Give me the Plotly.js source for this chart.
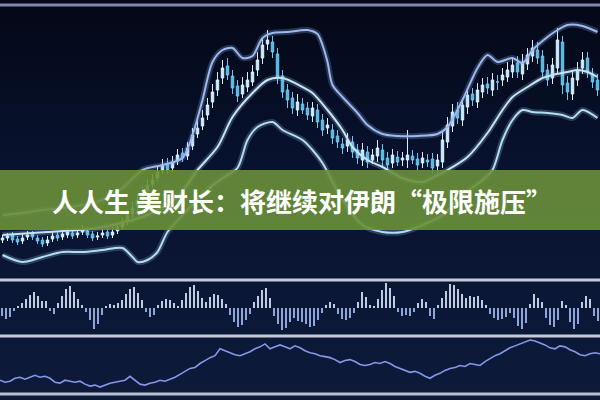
<!DOCTYPE html>
<html>
<head>
<meta charset="utf-8">
<script src="https://cdn.plot.ly/plotly-3.0.1.min.js"></script>
<style>
html,body{margin:0;padding:0;background:#070d22;}
#chart{width:600px;height:400px;background:linear-gradient(180deg,#040817 0%,#081330 45%,#0d1a3a 100%);}
</style>
</head>
<body>
<div id="chart"></div>
<script>
// ---- candlestick data (days 1..120) ----
const candleOpen = [
 40,42,45,41,39,43,46,42,40,37,
 41,45,43,45,47,45,48,49,46,43,
 45,48,45,49,53,59,66,74,82,90,
 96,102,110,116,112,119,127,124,134,146,
 154,165,178,190,202,214,204,194,186,193,
 198,210,222,236,238,226,204,190,182,170,
 176,172,164,170,160,152,150,144,136,134,
 138,130,120,128,120,124,130,122,117,123,
 120,120,124,121,117,120,121,114,118,138,
 154,170,160,173,186,178,188,196,190,198,
 200,203,208,217,206,216,224,230,224,210,
 202,212,238,197,186,200,212,222,206,200];
const candleClose = [
 42,44,40,38,42,45,43,39,36,40,
 44,42,46,48,44,47,50,45,42,44,
 47,44,48,52,58,65,72,80,88,95,
 100,108,115,110,118,125,122,132,145,152,
 162,175,188,200,212,205,192,184,195,200,
 208,220,235,240,228,202,188,180,172,178,
 170,165,172,158,150,155,142,138,132,140,
 128,122,130,118,125,132,120,115,125,118,
 122,125,120,115,122,118,112,120,140,155,
 168,162,175,185,180,190,195,192,200,198,
 205,210,215,208,218,225,232,222,208,200,
 215,240,195,188,202,210,220,208,198,190];
const candleHigh = [
 45,47,48,44,46,49,49,45,43,44,
 48,49,50,52,50,51,55,53,49,48,
 51,52,53,57,63,70,78,86,94,101,
 106,114,121,122,124,131,132,138,152,160,
 170,182,196,208,220,222,210,200,203,208,
 215,228,243,250,244,232,210,196,188,186,
 182,178,178,176,166,162,156,150,142,147,
 144,136,137,134,131,140,136,128,131,129,
 128,150,130,127,128,126,127,126,148,163,
 176,178,182,192,192,197,202,203,207,205,
 212,218,222,224,226,232,240,238,230,216,
 222,252,244,204,210,218,228,228,212,206];
const candleLow = [
 37,39,37,35,36,40,40,36,33,34,
 38,39,40,42,41,42,45,42,39,40,
 42,41,42,46,50,55,62,70,78,86,
 92,98,106,106,108,115,118,120,130,142,
 150,160,172,184,196,200,186,178,182,188,
 194,204,216,230,222,196,182,172,166,164,
 166,160,158,152,144,146,136,132,126,128,
 122,116,114,112,116,118,114,108,112,114,
 114,112,116,110,112,113,106,108,112,132,
 148,156,154,166,174,172,182,186,184,190,
 194,198,202,202,200,210,218,216,202,194,
 196,206,186,180,180,194,206,202,192,184];

// ---- Bollinger-style bands (day positions) ----
const upperDays = [1,5,9,13,17,21,25,29,33,37,39,41,43,45,47,49,51,53,55,58,62,64,65,66,67,69,72,74,77,80,84,88,90,93,96,98,100,103,105,107,110,112,114,117,120];
const upperBand = [65,67,70,72,75,80,92,110,115,122,145,180,218,230,232,222,224,242,247,248,250,246,235,218,195,183,167,155,146,144,144,146,153,180,212,225,218,222,217,230,243,250,255,254,248];
const midDays = [1,10,20,30,36,40,44,47,51,54,57,61,63,66,69,71,74,77,81,85,88,90,94,98,101,103,106,109,111,114,116,118,120];
const midBand = [45,48,52,65,83,110,133,163,187,200,202,193,187,170,150,133,120,113,102,98,105,110,123,147,170,183,193,202,205,208,210,208,203];
const lowerDays = [1,5,9,13,17,21,25,27,28,30,32,34,38,42,45,48,50,52,55,57,61,63,65,69,73,77,81,85,89,93,97,99,101,103,105,107,110,113,115,117,120];
const lowerBand = [25,18,23,28,28,30,32,23,18,20,28,48,70,90,102,112,140,153,158,150,140,130,117,80,55,48,48,55,65,85,100,110,140,160,170,168,167,165,162,170,162];

// ---- oscillator histogram (150 bars) ----
const oscValues = [
 -8,-11,-9,-3,2,5,9,13,16,12,
 7,7,-3,-6,5,12,19,22,16,9,
 3,-4,-12,-21,-16,-7,2,4,3,5,
 8,14,19,21,15,8,-4,-9,-7,3,
 7,9,8,5,2,8,15,21,23,17,
 10,6,11,14,13,9,4,-7,-14,-19,
 -17,-12,-6,6,12,18,20,10,-8,-16,
 -22,-20,-14,-10,-13,-14,-16,-19,-18,-12,
 -5,3,6,4,-6,-11,-12,-10,-5,6,
 16,11,3,2,9,18,25,20,12,-4,
 -8,-7,-8,-4,5,9,6,-8,-11,3,
 10,17,24,23,19,14,10,12,11,12,
 8,3,-6,-10,-12,-11,-9,-5,-10,-18,
 -21,-15,4,14,10,6,-10,-17,-19,-12,
 7,3,-14,-21,-16,6,12,9,-8,-13];

// ---- lower line indicator (121 points) ----
const lineValues = [
 20,18,19,22,23,21,23,25,23,24,
 22,18,17,20,19,18,19,16,14,15,
 13,15,17,18,19,20,24,20,16,15,
 17,18,20,19,21,23,26,29,32,33,
 37,40,43,45,52,50,48,46,45,47,
 49,52,54,57,52,54,56,54,52,55,
 53,50,48,47,45,44,43,41,38,40,
 41,39,36,35,36,38,37,39,37,34,
 32,30,28,29,27,24,22,25,27,30,
 32,33,35,34,37,36,35,39,42,45,
 47,50,53,55,57,59,61,60,58,56,
 53,52,55,54,51,49,46,45,47,48,
 47];

const titleText = '人人生 美财长：将继续对伊朗“极限施压”';

const days = candleClose.map((_, i) => i + 1);
const bars = oscValues.map((_, i) => i + 1);
const lineX = lineValues.map((_, i) => i);

const traces = [
  {type:'scatter', mode:'lines', x:upperDays, y:upperBand, xaxis:'x', yaxis:'y',
   line:{color:'rgba(140,175,240,0.25)', width:6, shape:'spline', smoothing:0.8}, hoverinfo:'skip'},
  {type:'scatter', mode:'lines', x:midDays, y:midBand, xaxis:'x', yaxis:'y',
   line:{color:'rgba(170,220,245,0.22)', width:6, shape:'spline', smoothing:0.8}, hoverinfo:'skip'},
  {type:'scatter', mode:'lines', x:lowerDays, y:lowerBand, xaxis:'x', yaxis:'y',
   line:{color:'rgba(170,220,245,0.22)', width:6, shape:'spline', smoothing:0.8}, hoverinfo:'skip'},
  {type:'scatter', mode:'lines', x:upperDays, y:upperBand, xaxis:'x', yaxis:'y',
   line:{color:'#9db9ee', width:2, shape:'spline', smoothing:0.8}},
  {type:'scatter', mode:'lines', x:midDays, y:midBand, xaxis:'x', yaxis:'y',
   line:{color:'#c4e4f6', width:2, shape:'spline', smoothing:0.8}},
  {type:'scatter', mode:'lines', x:lowerDays, y:lowerBand, xaxis:'x', yaxis:'y',
   line:{color:'#b4dcf2', width:2, shape:'spline', smoothing:0.8}},
  {type:'candlestick', x:days, open:candleOpen, high:candleHigh, low:candleLow, close:candleClose,
   xaxis:'x', yaxis:'y', whiskerwidth:0,
   increasing:{line:{color:'#d6f0ff', width:1}, fillcolor:'#c8ecff'},
   decreasing:{line:{color:'#6cc6ee', width:1}, fillcolor:'#58b8e6'}},
  {type:'bar', x:bars, y:oscValues, xaxis:'x2', yaxis:'y2',
   marker:{color:oscValues.map(v => v >= 0 ? '#d4e0f4' : '#9fb6ea'), line:{width:0}}},
  {type:'scatter', mode:'lines', x:lineX, y:lineValues, xaxis:'x3', yaxis:'y3',
   line:{color:'#8597e6', width:1.6}}
];

const sep = (py, color) => ({type:'line', xref:'paper', yref:'paper', x0:0, x1:1,
  y0:1 - py/400, y1:1 - py/400, line:{color:color, width:3}, layer:'above'});

const layout = {
  width:600, height:400,
  margin:{l:0, r:0, t:0, b:0},
  paper_bgcolor:'rgba(0,0,0,0)', plot_bgcolor:'rgba(0,0,0,0)',
  showlegend:false, bargap:0.55,
  xaxis:{domain:[0,1], range:[0.5,120.5], visible:false, rangeslider:{visible:false}, fixedrange:true},
  yaxis:{domain:[1-278/400, 1-8/400], range:[2,272], visible:false},
  xaxis2:{domain:[0,1], range:[0.5,150.5], visible:false, anchor:'y2'},
  yaxis2:{domain:[1-333/400, 1-283/400], range:[-25,25], visible:false, anchor:'x2'},
  xaxis3:{domain:[0,1], range:[0,120], visible:false, anchor:'y3'},
  yaxis3:{domain:[1-391/400, 1-339/400], range:[9,62], visible:false, anchor:'x3'},
  shapes:[
    sep(5, '#7f88aa'), sep(280, '#c3cbd8'), sep(336, '#c3cbd8'), sep(394, '#b8c0d2'),
    {type:'rect', xref:'paper', yref:'paper', x0:0, x1:1, y0:1-230/400, y1:1-170/400,
     fillcolor:'rgba(106,144,56,0.9)', line:{width:0}, layer:'above'}
  ],
  annotations:[{
    text:titleText, xref:'paper', yref:'paper', x:0.503, y:1-200/400,
    xanchor:'center', yanchor:'middle', showarrow:false,
    font:{family:'"Noto Sans CJK SC", "Noto Sans", sans-serif', size:26, color:'#ffffff', weight:'bold'}
  }]
};

Plotly.newPlot('chart', traces, layout, {displayModeBar:false, staticPlot:true});
</script>
</body>
</html>
